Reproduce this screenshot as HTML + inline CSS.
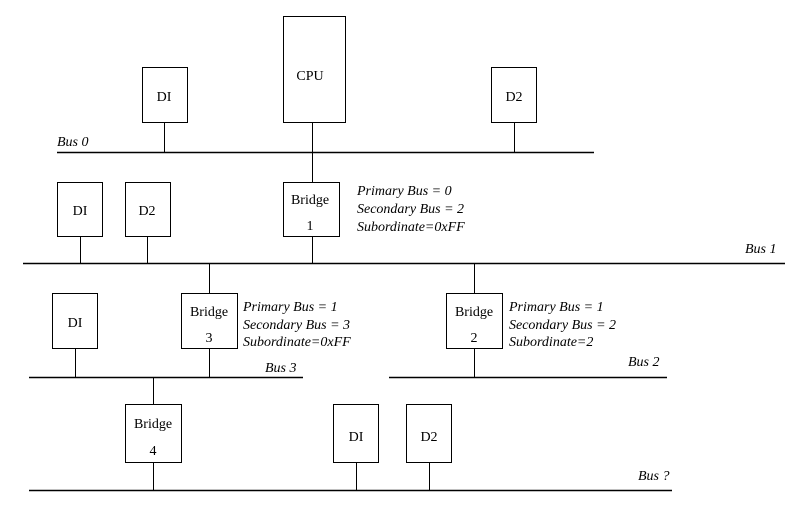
<!DOCTYPE html>
<html><head><meta charset="utf-8"><style>html,body{margin:0;padding:0;background:#fff}svg{display:block}</style></head>
<body>
<svg width="802" height="514" viewBox="0 0 802 514" xmlns="http://www.w3.org/2000/svg" font-family="'Liberation Serif', serif" font-size="14">
<g stroke="#000" stroke-width="1" fill="#fff">
<!-- buses -->
<line x1="57" y1="152.5" x2="594" y2="152.5" stroke-width="1.5"/>
<line x1="23" y1="263.5" x2="785" y2="263.5" stroke-width="1.5"/>
<line x1="29" y1="377.5" x2="303" y2="377.5" stroke-width="1.5"/>
<line x1="389" y1="377.5" x2="667" y2="377.5" stroke-width="1.5"/>
<line x1="29" y1="490.5" x2="672" y2="490.5" stroke-width="1.5"/>
<!-- connectors -->
<line x1="164.5" y1="122" x2="164.5" y2="152"/>
<line x1="312.5" y1="122" x2="312.5" y2="182"/>
<line x1="514.5" y1="122" x2="514.5" y2="152"/>
<line x1="80.5" y1="236" x2="80.5" y2="263"/>
<line x1="147.5" y1="236" x2="147.5" y2="263"/>
<line x1="312.5" y1="236" x2="312.5" y2="263"/>
<line x1="209.5" y1="263" x2="209.5" y2="293"/>
<line x1="474.5" y1="263" x2="474.5" y2="293"/>
<line x1="75.5" y1="348" x2="75.5" y2="377"/>
<line x1="209.5" y1="348" x2="209.5" y2="377"/>
<line x1="474.5" y1="348" x2="474.5" y2="377"/>
<line x1="153.5" y1="377" x2="153.5" y2="404"/>
<line x1="153.5" y1="462" x2="153.5" y2="490"/>
<line x1="356.5" y1="462" x2="356.5" y2="490"/>
<line x1="429.5" y1="462" x2="429.5" y2="490"/>
<!-- boxes -->
<rect x="142.5" y="67.5" width="45" height="55"/>
<rect x="283.5" y="16.5" width="62" height="106"/>
<rect x="491.5" y="67.5" width="45" height="55"/>
<rect x="57.5" y="182.5" width="45" height="54"/>
<rect x="125.5" y="182.5" width="45" height="54"/>
<rect x="283.5" y="182.5" width="56" height="54"/>
<rect x="52.5" y="293.5" width="45" height="55"/>
<rect x="181.5" y="293.5" width="56" height="55"/>
<rect x="446.5" y="293.5" width="56" height="55"/>
<rect x="125.5" y="404.5" width="56" height="58"/>
<rect x="333.5" y="404.5" width="45" height="58"/>
<rect x="406.5" y="404.5" width="45" height="58"/>
</g>
<g fill="#000" text-anchor="middle">
<text x="164" y="101">DI</text>
<text x="310" y="80">CPU</text>
<text x="514" y="101">D2</text>
<text x="80" y="215">DI</text>
<text x="147" y="215">D2</text>
<text x="310" y="204">Bridge</text>
<text x="310" y="230">1</text>
<text x="75" y="327">DI</text>
<text x="209" y="316">Bridge</text>
<text x="209" y="342">3</text>
<text x="474" y="316">Bridge</text>
<text x="474" y="342">2</text>
<text x="153" y="428">Bridge</text>
<text x="153" y="455">4</text>
<text x="356" y="441">DI</text>
<text x="429" y="441">D2</text>
</g>
<g fill="#000" font-style="italic">
<text x="57" y="146">Bus 0</text>
<text x="357" y="195">Primary Bus = 0</text>
<text x="357" y="213">Secondary Bus = 2</text>
<text x="357" y="231">Subordinate=0xFF</text>
<text x="745" y="253">Bus 1</text>
<text x="243" y="311">Primary Bus = 1</text>
<text x="243" y="329">Secondary Bus = 3</text>
<text x="243" y="346">Subordinate=0xFF</text>
<text x="509" y="311">Primary Bus = 1</text>
<text x="509" y="329">Secondary Bus = 2</text>
<text x="509" y="346">Subordinate=2</text>
<text x="265" y="372">Bus 3</text>
<text x="628" y="366">Bus 2</text>
<text x="638" y="480">Bus ?</text>
</g>
</svg>
</body></html>
